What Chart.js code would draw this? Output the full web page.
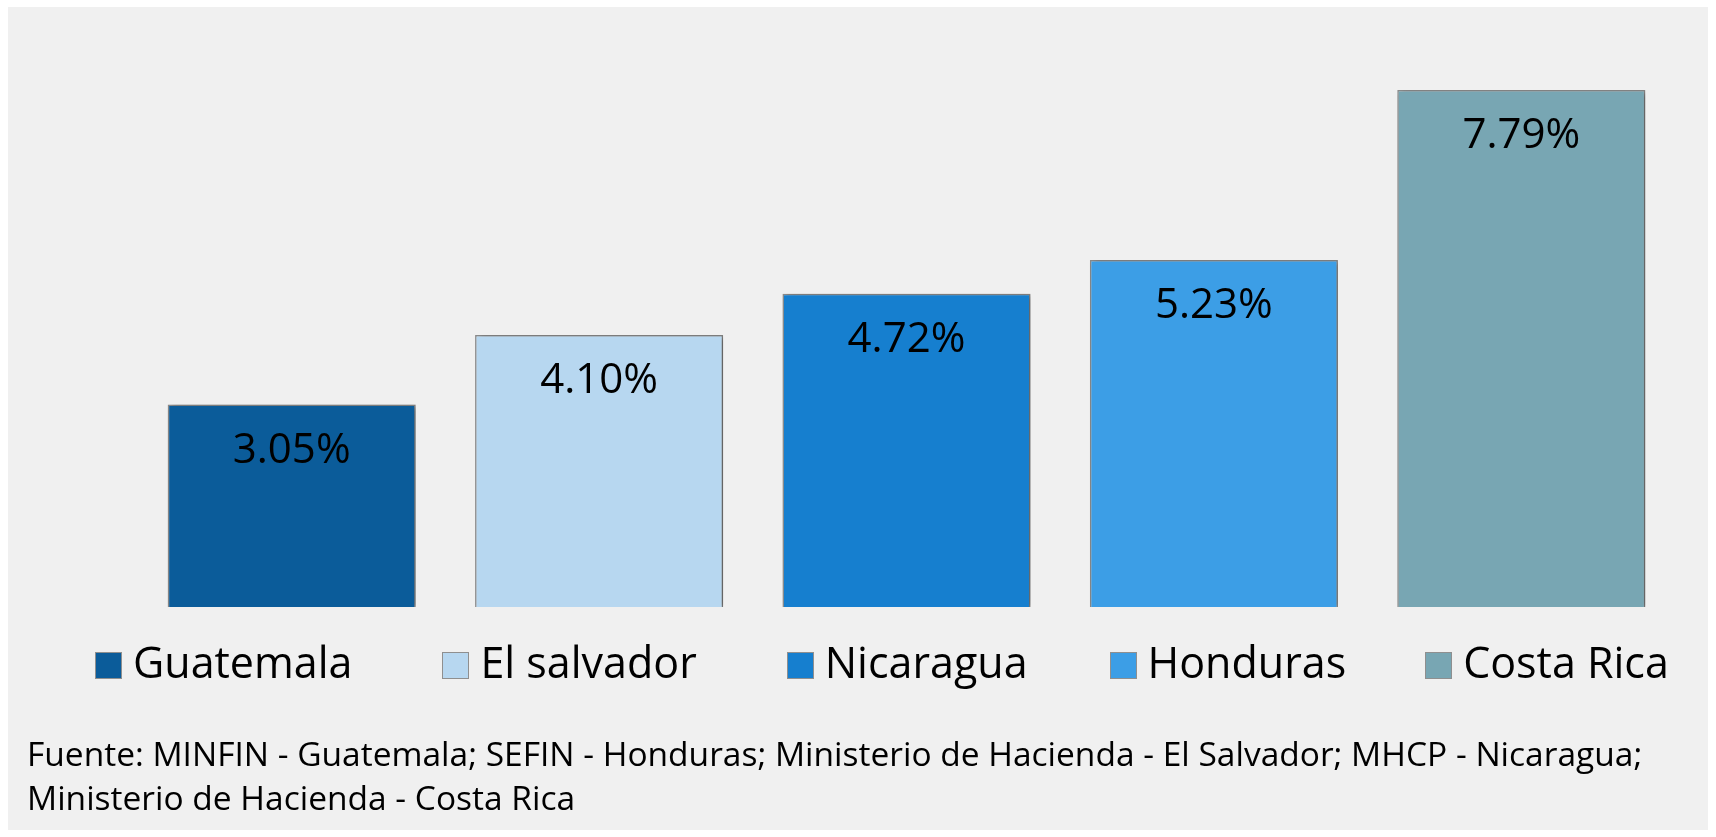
<!DOCTYPE html>
<html>
<head>
<meta charset="utf-8">
<script src="https://cdn.jsdelivr.net/npm/chart.js@4.4.1/dist/chart.umd.min.js"></script>
<style>
  html, body { margin: 0; padding: 0; background: #ffffff; overflow: hidden; }
  #panel { position: absolute; left: 8px; top: 7px; width: 1700px; height: 823px; background: #f0f0f0; overflow: hidden; }
  #chart { position: absolute; left: 0; top: 0; }
  #legend { position: absolute; left: 87px; top: 633px; display: flex; font-family: "Open Sans", sans-serif; font-size: 43px; line-height: 43px; color: #000; white-space: nowrap; }
  .item { display: flex; align-items: center; }
  .box { width: 25px; height: 25px; border: 1px solid #8f8f8f; margin-right: 11px; position: relative; top: 4px; }
  #footer { position: absolute; left: 19px; top: 724px; font-family: "Open Sans", sans-serif; font-size: 33.5px; line-height: 44px; color: #000; white-space: nowrap; }
</style>
</head>
<body>
<div id="panel">
  <canvas id="chart" width="1700" height="823"></canvas>
  <div id="legend"></div>
  <div id="footer">Fuente: MINFIN - Guatemala; SEFIN - Honduras; Ministerio de Hacienda - El Salvador; MHCP - Nicaragua;<br>Ministerio de Hacienda - Costa Rica</div>
</div>
<script>
const categories = ['Guatemala', 'El salvador', 'Nicaragua', 'Honduras', 'Costa Rica'];
const values = [3.05, 4.10, 4.72, 5.23, 7.79];
const colors = ['#0b5c9a', '#b7d7f0', '#167fcf', '#3c9ee6', '#78a6b3'];

// leyenda en html, separacion entre items
const legendGaps = [0, 90, 90, 82, 79];
const legendEl = document.getElementById('legend');
categories.forEach((c, i) => {
  const item = document.createElement('div');
  item.className = 'item';
  item.style.marginLeft = legendGaps[i] + 'px';
  const box = document.createElement('span');
  box.className = 'box';
  box.style.background = colors[i];
  const txt = document.createElement('span');
  txt.textContent = c;
  item.appendChild(box);
  item.appendChild(txt);
  legendEl.appendChild(item);
});

const shadowPlugin = {
  id: 'barShadow',
  beforeDatasetsDraw(chart) {
    const ctx = chart.ctx;
    ctx.save();
    ctx.shadowColor = 'rgba(0,0,0,0.35)';
    ctx.shadowBlur = 6;
    ctx.shadowOffsetX = 3;
    ctx.shadowOffsetY = 1;
  },
  afterDatasetsDraw(chart) {
    chart.ctx.restore();
  }
};

const valueLabels = {
  id: 'valueLabels',
  afterDatasetsDraw(chart) {
    const ctx = chart.ctx;
    const meta = chart.getDatasetMeta(0);
    ctx.save();
    ctx.font = '42px "Open Sans", sans-serif';
    ctx.fillStyle = '#000';
    ctx.textAlign = 'center';
    ctx.textBaseline = 'alphabetic';
    meta.data.forEach((bar, i) => {
      ctx.fillText(values[i].toFixed(2) + '%', bar.x, bar.y + 58);
    });
    ctx.restore();
  }
};

const ctx = document.getElementById('chart').getContext('2d');

new Chart(ctx, {
  type: 'bar',
  data: {
    labels: categories,
    datasets: [{
      data: values,
      backgroundColor: colors,
      borderColor: '#8c8c8c',
      borderWidth: 1.5,
      categoryPercentage: 1,
      barPercentage: 0.807
    }]
  },
  options: {
    responsive: false,
    animation: false,
    layout: { padding: { top: 36, left: 130, right: 33, bottom: 223 } },
    plugins: {
      legend: { display: false },
      tooltip: { enabled: false }
    },
    scales: {
      x: { display: false },
      y: { display: false, min: 0, max: 8.5 }
    }
  },
  plugins: [shadowPlugin, valueLabels]
});
</script>
</body>
</html>
